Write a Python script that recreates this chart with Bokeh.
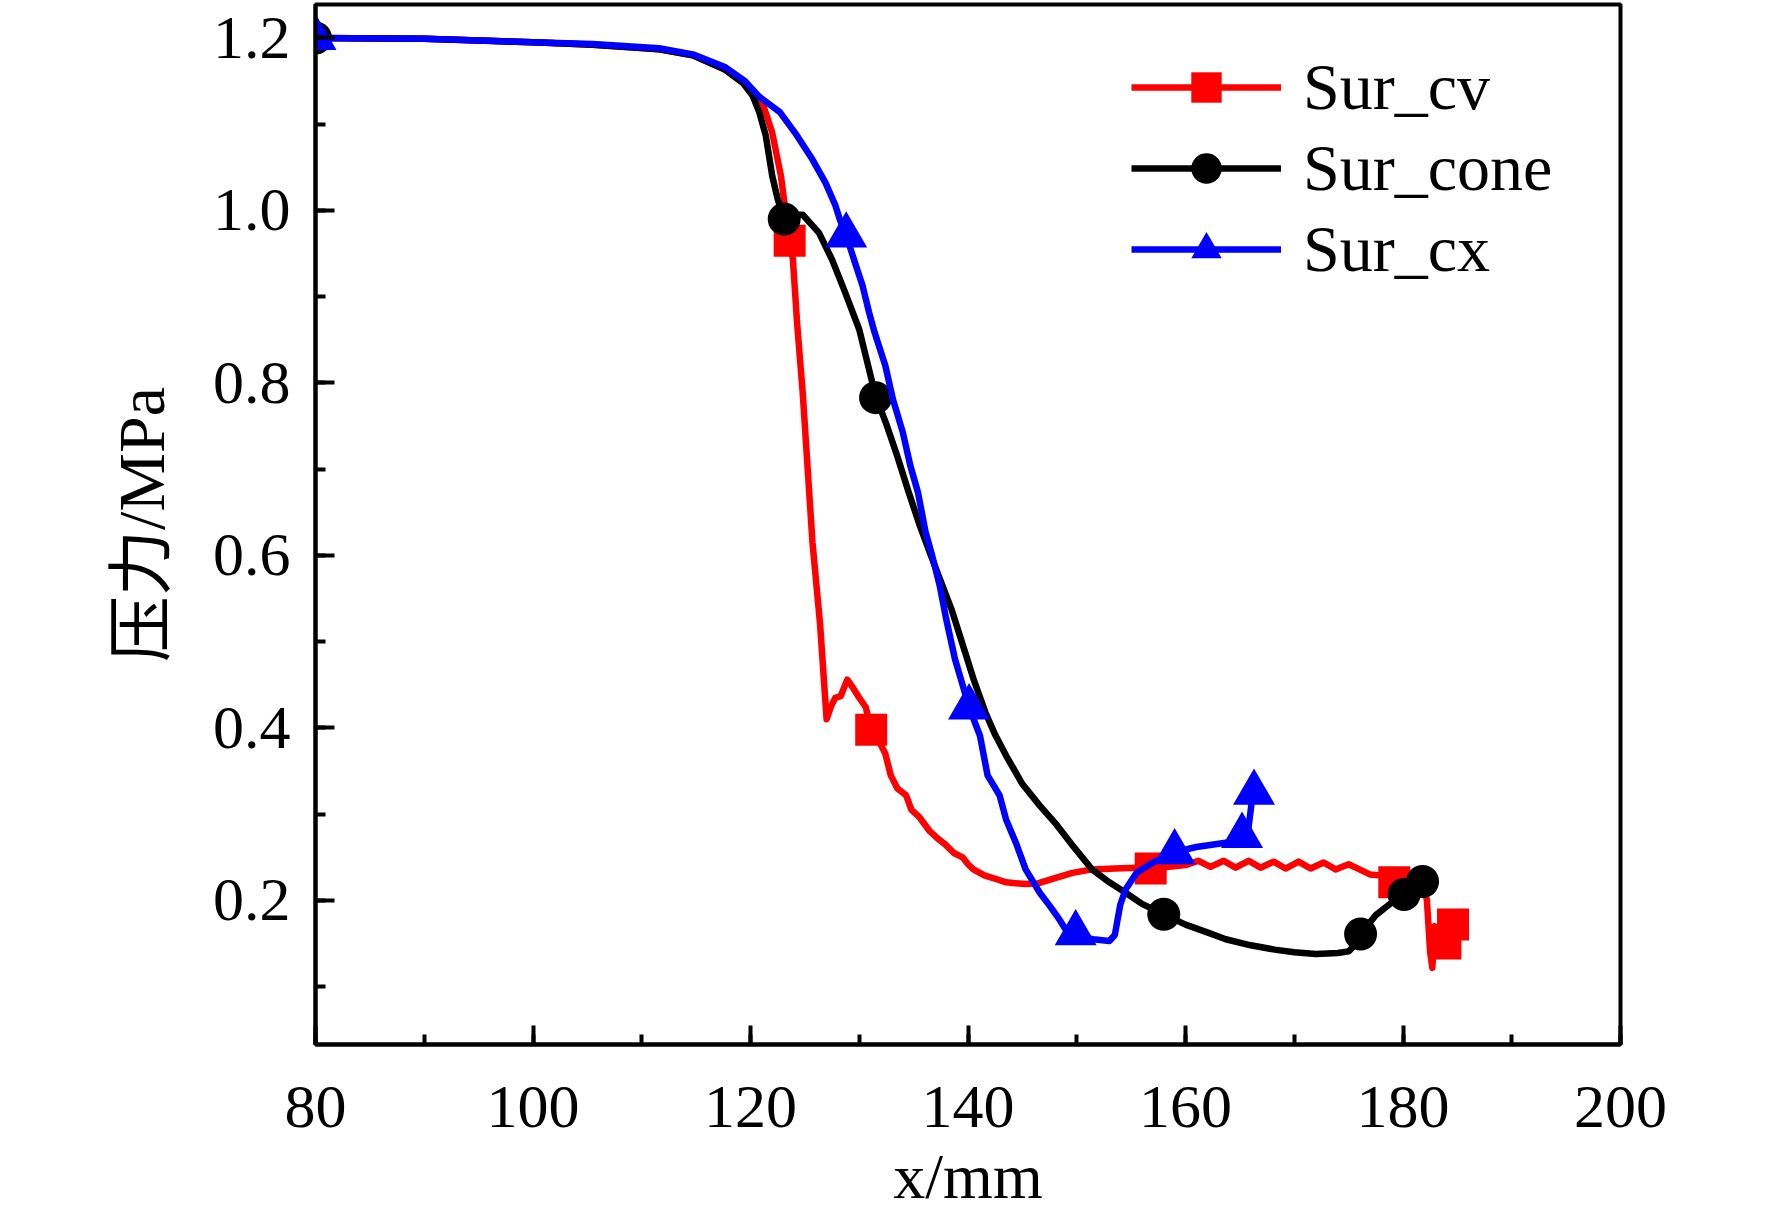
from bokeh.plotting import figure
from bokeh.models import (Range1d, SingleIntervalTicker, PrintfTickFormatter, Legend,
                          LegendItem)
from bokeh.embed import file_html
from bokeh.resources import INLINE

# ---------------- data ----------------
x_tick_step = 20
y_tick_step = 0.2

# Sur_cv (red, squares)
cv_x = [80, 90, 100, 105.5, 111.6, 114.7, 117.7, 119.3, 120.3, 121.1, 122.0, 122.8, 123.2, 123.6,
        123.9, 124.3, 124.8, 125.7, 126.4, 127.0, 127.4, 127.8, 128.3, 128.9, 129.4, 130.0, 130.6,
        131.1, 131.8, 132.4, 132.9, 133.5, 134.3, 134.8, 135.5, 136.5, 137.2, 137.9, 138.7, 139.5,
        140.0, 140.5, 141.5, 142.3, 143.5, 145.3, 146.5, 148.0, 149.6, 151.4, 153.5, 155.5, 156.8,
        158.5, 160.0, 161.2, 162.3, 163.5, 164.6, 165.8, 166.9, 168.1, 169.2, 170.4, 171.5, 172.7,
        173.8, 175.0, 176.0, 177.0, 178.0, 179.2, 180.5, 181.8, 182.2, 182.5, 182.7, 182.9, 183.9,
        184.5]
cv_y = [1.200, 1.199, 1.195, 1.192, 1.187, 1.180, 1.163, 1.148, 1.135, 1.125, 1.090, 1.040, 1.001,
        0.965, 0.943, 0.867, 0.789, 0.615, 0.520, 0.410, 0.425, 0.435, 0.437, 0.456, 0.447, 0.435,
        0.424, 0.398, 0.385, 0.370, 0.345, 0.330, 0.322, 0.305, 0.297, 0.280, 0.272, 0.265, 0.255,
        0.250, 0.242, 0.236, 0.229, 0.226, 0.221, 0.219, 0.220, 0.226, 0.232, 0.236, 0.237, 0.238,
        0.237, 0.239, 0.241, 0.246, 0.239, 0.246, 0.238, 0.246, 0.238, 0.245, 0.237, 0.245, 0.237,
        0.244, 0.236, 0.242, 0.236, 0.230, 0.229, 0.221, 0.222, 0.223, 0.200, 0.140, 0.122, 0.170,
        0.148, 0.172]
cv_mx = [123.6, 131.1, 156.8, 179.2, 183.9, 184.6]
cv_my = [0.965, 0.398, 0.237, 0.221, 0.150, 0.172]

# Sur_cone (black, circles)
cone_x = [80, 90, 100, 105.5, 111.6, 114.7, 117.7, 119.3, 120.2, 120.8, 121.4, 122.0, 122.5, 123.1,
          123.8, 124.8, 126.3, 127.5, 128.7, 130.0, 131.5, 132.5, 133.5, 134.5, 135.5, 136.5, 137.5,
          138.5, 139.5, 140.5, 141.6, 142.5, 143.5, 145.0, 146.6, 148.0, 149.6, 151.4, 153.0, 154.5,
          156.0, 158.0, 160.0, 162.0, 163.7, 166.0, 168.2, 170.0, 172.0, 174.0, 175.0, 175.7, 176.1,
          177.5, 179.0, 180.1, 181.0, 181.8]
cone_y = [1.200, 1.199, 1.195, 1.192, 1.187, 1.180, 1.163, 1.148, 1.133, 1.114, 1.087, 1.040, 1.013,
          0.990, 0.995, 0.995, 0.974, 0.943, 0.905, 0.862, 0.785, 0.752, 0.715, 0.675, 0.637, 0.603,
          0.570, 0.537, 0.497, 0.457, 0.418, 0.392, 0.368, 0.335, 0.310, 0.290, 0.264, 0.236, 0.221,
          0.209, 0.196, 0.184, 0.172, 0.163, 0.155, 0.148, 0.143, 0.140, 0.138, 0.139, 0.141, 0.150,
          0.161, 0.183, 0.198, 0.207, 0.215, 0.222]
cone_mx = [80, 123.1, 131.5, 158.0, 176.1, 180.1, 181.8]
cone_my = [1.200, 0.990, 0.783, 0.184, 0.161, 0.207, 0.222]

# Sur_cx (blue, triangles)
cx_x = [80, 90, 100, 105.5, 111.6, 114.7, 117.7, 119.5, 120.8, 122.7, 124.1, 125.7, 126.9, 127.8,
        128.2, 128.8, 129.7, 130.3, 130.9, 131.4, 132.4, 133.1, 134.0, 134.7, 135.4, 136.1, 136.7,
        137.4, 138.0, 138.8, 139.5, 140.1, 141.1, 141.8, 142.9, 143.5, 144.4, 145.3, 146.6, 147.5,
        148.4, 149.3, 150.2, 151.5, 153.0, 153.5, 154.0, 154.5, 155.5, 157.0, 159.0, 161.0, 163.7,
        165.2, 165.8, 166.2]
cx_y = [1.200, 1.199, 1.195, 1.193, 1.188, 1.181, 1.166, 1.150, 1.132, 1.114, 1.090, 1.059, 1.032,
        1.006, 0.990, 0.971, 0.936, 0.913, 0.882, 0.859, 0.820, 0.781, 0.743, 0.704, 0.673, 0.627,
        0.600, 0.565, 0.526, 0.480, 0.450, 0.424, 0.391, 0.345, 0.322, 0.294, 0.267, 0.236, 0.209,
        0.194, 0.178, 0.160, 0.158, 0.155, 0.153, 0.160, 0.195, 0.213, 0.232, 0.244, 0.256, 0.262,
        0.267, 0.272, 0.285, 0.325]
cx_mx = [80, 128.8, 140.1, 149.9, 159.0, 165.2, 166.3]
cx_my = [1.200, 0.971, 0.424, 0.162, 0.256, 0.275, 0.325]

series_names = ["Sur_cv", "Sur_cone", "Sur_cx"]
x_label = "x/mm"
y_label = "压力/MPa"

# ---------------- figure ----------------
SERIF = "Liberation Serif"
MIXED = "Liberation Serif, Noto Sans CJK SC"

W, H = 1756, 1214
p = figure(width=W, height=H, output_backend="svg", toolbar_location=None,
           x_range=Range1d(80, 200), y_range=Range1d(0.033, 1.2388),
           min_border_left=315, min_border_right=136, min_border_top=4, min_border_bottom=170,
           background_fill_color="white", border_fill_color="white")

p.xgrid.grid_line_color = None
p.ygrid.grid_line_color = None
p.outline_line_color = "black"
p.outline_line_width = 4
p.outline_line_alpha = 1

p.xaxis.ticker = SingleIntervalTicker(interval=x_tick_step, num_minor_ticks=2)
p.yaxis.ticker = SingleIntervalTicker(interval=y_tick_step, num_minor_ticks=2)
p.yaxis.formatter = PrintfTickFormatter(format="%.1f")

for ax in (p.xaxis, p.yaxis):
    ax.axis_line_width = 4
    ax.axis_line_color = "black"
    ax.major_tick_line_width = 4
    ax.minor_tick_line_width = 4
    ax.major_tick_line_color = "black"
    ax.minor_tick_line_color = "black"
    ax.major_tick_in = 19
    ax.major_tick_out = 0
    ax.minor_tick_in = 10
    ax.minor_tick_out = 0
    ax.major_label_text_font = SERIF
    ax.major_label_text_font_size = "62px"
    ax.major_label_text_color = "black"

p.xaxis.major_label_standoff = 42
p.yaxis.major_label_standoff = 25

p.xaxis.axis_label = x_label
p.xaxis.axis_label_text_font = SERIF
p.xaxis.axis_label_text_font_size = "64px"
p.xaxis.axis_label_text_font_style = "normal"
p.xaxis.axis_label_text_color = "black"
p.xaxis.axis_label_standoff = 11

p.yaxis.axis_label = y_label
p.yaxis.axis_label_text_font = MIXED
p.yaxis.axis_label_text_font_size = "66px"
p.yaxis.axis_label_text_font_style = "normal"
p.yaxis.axis_label_text_color = "black"
p.yaxis.axis_label_standoff = 32

LW = 6.5
r_cv_l = p.line(cv_x, cv_y, line_color="#ff0000", line_width=LW, line_join="round")
r_cv_m = p.scatter(cv_mx, cv_my, marker="square", size=32, fill_color="#ff0000", line_color=None)
r_co_l = p.line(cone_x, cone_y, line_color="black", line_width=LW, line_join="round")
r_co_m = p.scatter(cone_mx, cone_my, marker="circle", size=33, fill_color="black", line_color=None)
r_cx_l = p.line(cx_x, cx_y, line_color="#0000ff", line_width=LW, line_join="round")
r_cx_m = p.scatter(cx_mx, cx_my, marker="triangle", size=42, fill_color="#0000ff", line_color=None)

legend = Legend(items=[
    LegendItem(label=series_names[0], renderers=[r_cv_l, r_cv_m]),
    LegendItem(label=series_names[1], renderers=[r_co_l, r_co_m]),
    LegendItem(label=series_names[2], renderers=[r_cx_l, r_cx_m]),
], location=(816, 757), glyph_width=150, glyph_height=76, label_height=76, spacing=5,
    padding=0, margin=0, label_standoff=22, border_line_alpha=0, background_fill_alpha=0,
    label_text_font=SERIF, label_text_font_size="66px", label_text_color="black")
p.add_layout(legend)

open("out.html", "w").write(file_html(p, INLINE))
